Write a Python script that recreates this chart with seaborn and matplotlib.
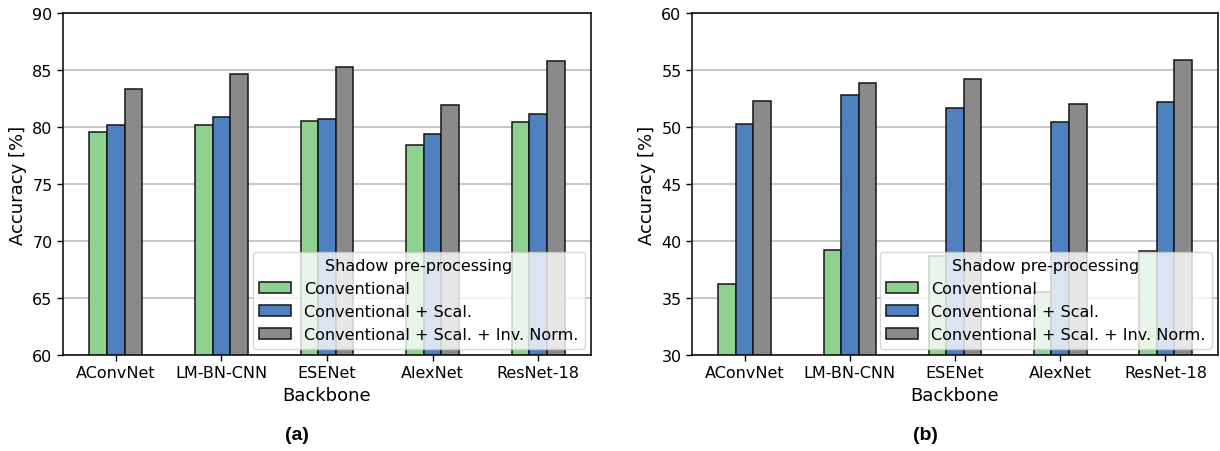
import matplotlib
matplotlib.use("Agg")
import matplotlib.pyplot as plt
import seaborn as sns
import pandas as pd

backbones = ["AConvNet", "LM-BN-CNN", "ESENet", "AlexNet", "ResNet-18"]
methods = ["Conventional", "Conventional + Scal.", "Conventional + Scal. + Inv. Norm."]

# panel (a)
a_conv = [79.6, 80.2, 80.55, 78.45, 80.45]
a_scal = [80.15, 80.85, 80.7, 79.4, 81.1]
a_inv = [83.3, 84.65, 85.25, 81.95, 85.8]

# panel (b)
b_conv = [36.2, 39.2, 38.65, 35.5, 39.15]
b_scal = [50.3, 52.85, 51.7, 50.45, 52.2]
b_inv = [52.3, 53.9, 54.25, 52.0, 55.9]

colors = ["#8fd18f", "#4f80bf", "#8a8a8a"]

def long_df(conv, scal, inv):
    rows = []
    for vals, m in zip([conv, scal, inv], methods):
        for b, v in zip(backbones, vals):
            rows.append({"Backbone": b, "Method": m, "Accuracy": v})
    return pd.DataFrame(rows)

sns.set_style("white")
plt.rcParams["font.family"] = ["DejaVu Sans"]
plt.rcParams["text.color"] = "black"
plt.rcParams["axes.labelcolor"] = "black"
plt.rcParams["xtick.color"] = "black"
plt.rcParams["ytick.color"] = "black"

fig = plt.figure(figsize=(12.2, 4.52), dpi=100)
ax1 = fig.add_axes([63 / 1220, 96 / 452, 528 / 1220, 342 / 452])
ax2 = fig.add_axes([692 / 1220, 96 / 452, 526 / 1220, 342 / 452])

panels = [
    (ax1, long_df(a_conv, a_scal, a_inv), (60, 90), [60, 65, 70, 75, 80, 85, 90], "(a)", 297),
    (ax2, long_df(b_conv, b_scal, b_inv), (30, 60), [30, 35, 40, 45, 50, 55, 60], "(b)", 925),
]

for ax, df, ylim, yticks, lab, lx in panels:
    sns.barplot(data=df, x="Backbone", y="Accuracy", hue="Method", order=backbones,
                hue_order=methods, palette=colors, saturation=1, width=0.5,
                edgecolor="#151515", linewidth=1.1, ax=ax)
    ax.set_ylim(*ylim)
    ax.set_yticks(yticks)
    ax.set_axisbelow(True)
    ax.yaxis.grid(True, color="#bdbdbd", linewidth=1.2)
    ax.xaxis.grid(False)
    for s in ax.spines.values():
        s.set_visible(True)
        s.set_color("black")
        s.set_linewidth(1.1)
    ax.tick_params(axis="both", which="major", labelsize=11.5, length=4, width=1,
                   direction="out", bottom=True, left=True, color="black",
                   labelcolor="black")
    ax.set_xlabel("Backbone", fontsize=13, color="black")
    ax.set_ylabel("Accuracy [%]", fontsize=13, color="black")
    leg = ax.legend(title="Shadow pre-processing", loc="lower right", fontsize=11.5,
                    title_fontsize=11.5, framealpha=0.8, borderaxespad=0.4)
    for t in leg.get_texts():
        t.set_color("black")
    leg.get_title().set_color("black")
    fig.text(lx / 1220, 1 - 436 / 452, lab, ha="center", va="center",
             fontsize=14, fontweight="bold", color="black",
             family=["Liberation Sans", "DejaVu Sans"])

fig.savefig("out.png", dpi=100)
